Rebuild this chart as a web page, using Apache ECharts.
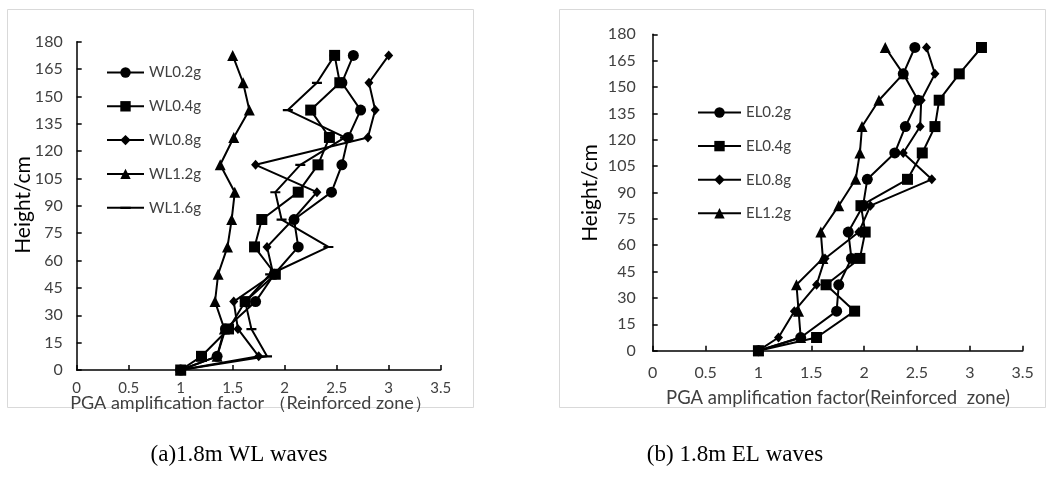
<!DOCTYPE html>
<html><head><meta charset="utf-8">
<script src="https://cdn.jsdelivr.net/npm/echarts@6/dist/echarts.min.js"></script>
<style>html,body{margin:0;padding:0;background:#fff}#c{width:1048px;height:482px}</style>
</head><body><div id="c"></div>
<script>
const heights = [0, 7.5, 22.5, 37.5, 52.5, 67.5, 82.5, 97.5, 112.5, 127.5, 142.5, 157.5, 172.5];
const xTicks = [0, 0.5, 1, 1.5, 2, 2.5, 3, 3.5];
const yTicks = [0, 15, 30, 45, 60, 75, 90, 105, 120, 135, 150, 165, 180];

const wlNames = ['WL0.2g', 'WL0.4g', 'WL0.8g', 'WL1.2g', 'WL1.6g'];
const WL02 = [1.00, 1.35, 1.43, 1.72, 1.90, 2.13, 2.09, 2.45, 2.55, 2.61, 2.73, 2.55, 2.66];
const WL04 = [1.00, 1.20, 1.46, 1.62, 1.91, 1.71, 1.78, 2.13, 2.32, 2.43, 2.25, 2.53, 2.48];
const WL08 = [1.00, 1.75, 1.55, 1.51, 1.89, 1.83, 2.08, 2.31, 1.72, 2.80, 2.87, 2.81, 3.00];
const WL12 = [1.00, 1.35, 1.42, 1.33, 1.36, 1.45, 1.49, 1.52, 1.38, 1.51, 1.66, 1.60, 1.50];
const WL16 = [1.00, 1.83, 1.68, 1.62, 1.86, 2.42, 1.97, 1.91, 2.15, 2.58, 2.03, 2.31, 2.48];

const elNames = ['EL0.2g', 'EL0.4g', 'EL0.8g', 'EL1.2g'];
const EL02 = [1.00, 1.40, 1.74, 1.76, 1.88, 1.85, 1.99, 2.03, 2.29, 2.39, 2.51, 2.37, 2.48];
const EL04 = [1.00, 1.55, 1.91, 1.64, 1.96, 2.01, 1.97, 2.41, 2.55, 2.67, 2.71, 2.90, 3.11];
const EL08 = [1.00, 1.19, 1.34, 1.55, 1.63, 1.95, 2.06, 2.64, 2.37, 2.53, 2.54, 2.67, 2.59];
const EL12 = [1.00, 1.40, 1.38, 1.36, 1.61, 1.59, 1.76, 1.92, 1.96, 1.98, 2.14, 2.37, 2.20];

const yTitle = 'Height/cm';
const xTitleA = 'PGA amplification factor （Reinforced zone）';
const xTitleB = 'PGA amplification factor(Reinforced  zone)';
const captionA = '(a)1.8m WL waves';
const captionB = '(b) 1.8m EL waves';

// dash marker: degenerate sub-paths at top/bottom keep the bounding box square
const DASH = 'path://M0,0L0,0ZM0,10L0,10ZM0,4L10,4L10,6.2L0,6.2Z';
const symbols = [
  {symbol: 'circle', size: 11},
  {symbol: 'rect', size: 11},
  {symbol: 'diamond', size: [9, 10]},
  {symbol: 'triangle', size: 11},
  {symbol: DASH, size: 10}
];

const FONT = 'Lato';
const chart = echarts.init(document.getElementById('c'), null, {renderer: 'canvas'});

function pair(xs) { return xs.map((v, i) => [v, heights[i]]); }
function mkSeries(name, xs, idx, k) {
  return {
    name: name, type: 'line', xAxisIndex: idx, yAxisIndex: idx,
    data: pair(xs), symbol: symbols[k].symbol, symbolSize: symbols[k].size,
    showAllSymbol: true,
    lineStyle: {color: '#000', width: 2},
    itemStyle: {color: '#000', borderWidth: 0},
    emphasis: {disabled: true}, animation: false, z: 2 + k
  };
}
function xAx(idx, labelSize, labelMargin) {
  return {
    type: 'value', gridIndex: idx, min: 0, max: 3.5, interval: 0.5,
    axisLine: {show: true, onZero: false, lineStyle: {color: '#000', width: 1.5}},
    axisTick: {show: true, inside: true, length: 5, lineStyle: {color: '#000', width: 1.5}},
    axisLabel: {color: '#404040', fontFamily: FONT, fontSize: labelSize, margin: labelMargin},
    splitLine: {show: false}
  };
}
function yAx(idx, margin) {
  return {
    type: 'value', gridIndex: idx, min: 0, max: 180, interval: 15,
    axisLine: {show: true, onZero: false, lineStyle: {color: '#000', width: 1.5}},
    axisTick: {show: true, inside: true, length: 5, lineStyle: {color: '#000', width: 1.5}},
    axisLabel: {color: '#404040', fontFamily: FONT, fontSize: 16, margin: margin},
    splitLine: {show: false}
  };
}
function label(text, x, y, size, color, rot) {
  return {type: 'text', x: x, y: y, rotation: rot || 0,
    style: {text: text, x: 0, y: 0, textAlign: 'center', textVerticalAlign: 'middle',
      font: size + 'px ' + FONT, fill: color}};
}

const series = [];
[WL02, WL04, WL08, WL12, WL16].forEach((d, k) => series.push(mkSeries(wlNames[k], d, 0, k)));
[EL02, EL04, EL08, EL12].forEach((d, k) => series.push(mkSeries(elNames[k], d, 1, k)));

chart.setOption({
  animation: false,
  backgroundColor: '#fff',
  grid: [
    {left: 76.7, top: 41.7, width: 364, height: 328.3, containLabel: false},
    {left: 652.7, top: 34.3, width: 370, height: 316.4, containLabel: false}
  ],
  xAxis: [xAx(0, 15, 11), xAx(1, 16, 14)],
  yAxis: [yAx(0, 14), yAx(1, 17)],
  legend: [
    {data: wlNames, orient: 'vertical', left: 106, top: 65, padding: 0, itemWidth: 37, itemHeight: 13, itemGap: 18.8,
     textStyle: {color: '#404040', fontFamily: FONT, fontSize: 15}, selectedMode: false},
    {data: elNames, orient: 'vertical', left: 697, top: 105, padding: 0, itemWidth: 43, itemHeight: 13, itemGap: 18.6,
     textStyle: {color: '#404040', fontFamily: FONT, fontSize: 15}, selectedMode: false}
  ],
  graphic: [
    {type: 'rect', shape: {x: 7.5, y: 9.5, width: 466, height: 398}, style: {fill: 'none', stroke: '#d9d9d9', lineWidth: 1}, z: -1},
    {type: 'rect', shape: {x: 559.5, y: 9.5, width: 486, height: 398}, style: {fill: 'none', stroke: '#d9d9d9', lineWidth: 1}, z: -1},
    label(yTitle, 23, 205, 21, '#000', Math.PI / 2),
    label(yTitle, 590, 193, 21, '#000', Math.PI / 2),
    label(xTitleA, 251, 403, 18, '#404040'),
    label(xTitleB, 838, 398, 18.5, '#404040'),
    {type: 'text', style: {text: captionA, x: 239, y: 455, textAlign: 'center', textVerticalAlign: 'middle', font: '23px "Liberation Serif"', fill: '#000'}},
    {type: 'text', style: {text: captionB, x: 735, y: 455, textAlign: 'center', textVerticalAlign: 'middle', font: '23px "Liberation Serif"', fill: '#000'}}
  ],
  series: series
});
</script></body></html>
